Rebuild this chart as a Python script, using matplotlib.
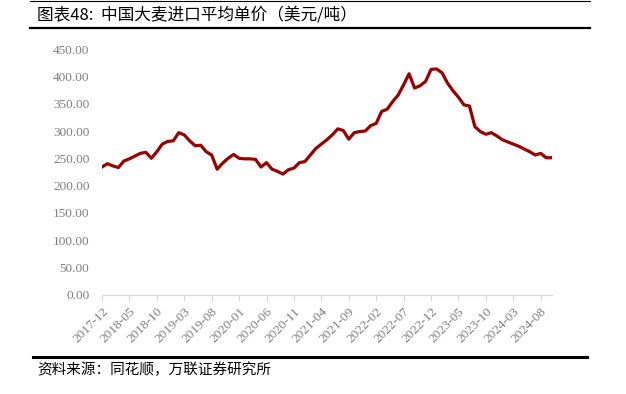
import matplotlib
matplotlib.use("Agg")
import matplotlib.pyplot as plt
from matplotlib.lines import Line2D
import pandas as pd

plt.rcParams['font.family'] = ['Noto Sans CJK SC', 'DejaVu Sans']

# monthly average import price of barley, USD/ton (2017-12 .. 2024-10)
months = pd.period_range("2017-12", periods=83, freq="M").strftime("%Y-%m").tolist()
price = [
    234, 240, 236, 233, 245, 249, 254, 259, 261, 250,
    262, 276, 281, 282, 297, 293, 282, 273, 274, 262,
    256, 230, 241, 250, 257, 250, 249, 249, 248, 234,
    242, 230, 226, 221, 229, 232, 242, 244, 256, 268,
    276, 284, 293, 304, 301, 285, 297, 299, 300, 310,
    314, 336, 340, 354, 366, 385, 405, 379, 383, 391,
    413, 414, 407, 388, 374, 362, 348, 346, 308, 299,
    294, 297, 291, 284, 280, 276, 272, 267, 262, 256,
    259, 251, 251,
]
yticks = [0, 50, 100, 150, 200, 250, 300, 350, 400, 450]

title = "图表48:  中国大麦进口平均单价（美元/吨）"
source = "资料来源：同花顺，万联证券研究所"

fig = plt.figure(figsize=(6.26, 3.94), dpi=100)
ax = fig.add_axes([0.1629, 0.2525, 0.7184, 0.6224])

x = list(range(len(months)))
ax.plot(x, price, color="#990000", lw=2.3, solid_joinstyle="round")

ax.set_xlim(0, len(months) - 1)
ax.set_ylim(0, 450)

tick_idx = x[::5]
ax.set_xticks(tick_idx)
ax.set_xticklabels([months[i] for i in tick_idx], rotation=45, ha="right",
                   va="top", rotation_mode="anchor",
                   fontfamily="Liberation Serif", fontsize=9.5, color="#7f7f7f")
ax.set_yticks(yticks)
ax.set_yticklabels([f"{v:.2f}" for v in yticks], fontfamily="Liberation Serif",
                   fontsize=9.5, color="#7f7f7f")

for s in ["top", "right", "left"]:
    ax.spines[s].set_visible(False)
ax.spines["bottom"].set_color("#d9d9d9")
ax.tick_params(axis="x", direction="out", length=4, color="#d9d9d9", pad=4)
ax.tick_params(axis="y", length=0, pad=9)

# header / footer rules
fig.add_artist(Line2D([30 / 626, 590 / 626], [0.9985, 0.9985], color="black", lw=0.8))
fig.add_artist(Line2D([30 / 626, 590 / 626], [0.928, 0.928], color="black", lw=1.6))
fig.add_artist(Line2D([33 / 626, 587 / 626], [0.094, 0.094], color="black", lw=2.2))

fig.text(37 / 626, 0.962, title, fontsize=12, va="center", ha="left")
fig.text(37 / 626, 0.061, source, fontsize=10.5, va="center", ha="left", style="italic")

fig.savefig("out.png", dpi=100)
